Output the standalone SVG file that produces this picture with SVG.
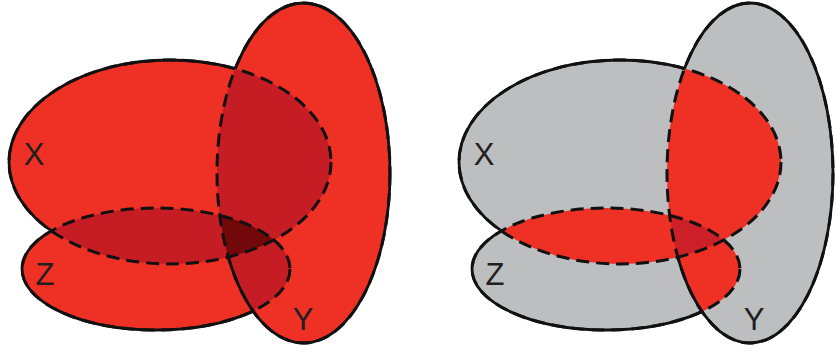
<svg xmlns="http://www.w3.org/2000/svg" xmlns:xlink="http://www.w3.org/1999/xlink" width="835" height="352" viewBox="0 0 835 352">
<style>
.red{fill:#ee3124}
.gray{fill:#bcbec0}
.pairL{fill:#c61d24}
.tripL{fill:#720809}
.pairR{fill:#ee3124}
.tripR{fill:#cc1f27}
.solid{fill:none;stroke:#111;stroke-width:2.8}
.dash{fill:none;stroke:#111;stroke-width:3;stroke-dasharray:13 7}
.lbl{font-family:"Liberation Sans",Arial,sans-serif;font-size:31px;fill:#231f20;text-anchor:middle}
</style>
<defs>
<ellipse id="LX" cx="170" cy="162" rx="161" ry="102"/>
<ellipse id="LY" cx="303.5" cy="173" rx="86.5" ry="170"/>
<ellipse id="LZ" cx="156" cy="269" rx="134" ry="61"/>
<ellipse id="RX" cx="620" cy="162" rx="161" ry="102"/>
<ellipse id="RY" cx="750" cy="173" rx="83" ry="170"/>
<ellipse id="RZ" cx="606" cy="269" rx="134" ry="61"/>
<clipPath id="cLX"><use xlink:href="#LX"/></clipPath>
<clipPath id="cLY"><use xlink:href="#LY"/></clipPath>
<clipPath id="cRX"><use xlink:href="#RX"/></clipPath>
<clipPath id="cRY"><use xlink:href="#RY"/></clipPath>
<mask id="mLX" maskUnits="userSpaceOnUse" x="0" y="0" width="835" height="352"><rect width="835" height="352" fill="#fff"/><use xlink:href="#LY" fill="#000"/><use xlink:href="#LZ" fill="#000"/></mask>
<mask id="mLZ" maskUnits="userSpaceOnUse" x="0" y="0" width="835" height="352"><rect width="835" height="352" fill="#fff"/><use xlink:href="#LX" fill="#000"/><use xlink:href="#LY" fill="#000"/></mask>
<mask id="mLY" maskUnits="userSpaceOnUse" x="0" y="0" width="835" height="352"><rect width="835" height="352" fill="#fff"/><use xlink:href="#LX" fill="#000"/></mask>
<mask id="mRX" maskUnits="userSpaceOnUse" x="0" y="0" width="835" height="352"><rect width="835" height="352" fill="#fff"/><use xlink:href="#RY" fill="#000"/><use xlink:href="#RZ" fill="#000"/></mask>
<mask id="mRZ" maskUnits="userSpaceOnUse" x="0" y="0" width="835" height="352"><rect width="835" height="352" fill="#fff"/><use xlink:href="#RX" fill="#000"/><use xlink:href="#RY" fill="#000"/></mask>
<mask id="mRY" maskUnits="userSpaceOnUse" x="0" y="0" width="835" height="352"><rect width="835" height="352" fill="#fff"/><use xlink:href="#RX" fill="#000"/></mask>
</defs>
<rect width="835" height="352" fill="#fff"/>

<!-- Left panel -->
<g id="left-panel">
  <g id="left-set-x"><use xlink:href="#LX" class="red"/></g>
  <g id="left-set-z"><use xlink:href="#LZ" class="red"/></g>
  <g id="left-set-y"><use xlink:href="#LY" class="red"/></g>
  <g id="left-overlaps">
    <use xlink:href="#LY" class="pairL" clip-path="url(#cLX)"/>
    <use xlink:href="#LZ" class="pairL" clip-path="url(#cLX)"/>
    <use xlink:href="#LZ" class="pairL" clip-path="url(#cLY)"/>
    <g clip-path="url(#cLX)"><use xlink:href="#LZ" class="tripL" clip-path="url(#cLY)"/></g>
  </g>
  <g id="left-outlines">
    <use xlink:href="#LX" class="dash"/>
    <use xlink:href="#LZ" class="dash"/>
    <use xlink:href="#LY" class="dash"/>
    <use xlink:href="#LX" class="solid" mask="url(#mLX)"/>
    <use xlink:href="#LZ" class="solid" mask="url(#mLZ)"/>
    <use xlink:href="#LY" class="solid" mask="url(#mLY)"/>
  </g>
  <text class="lbl" x="34" y="165">X</text>
  <text class="lbl" x="45" y="285">Z</text>
  <text class="lbl" x="303" y="330">Y</text>
</g>

<!-- Right panel -->
<g id="right-panel">
  <g id="right-set-x"><use xlink:href="#RX" class="gray"/></g>
  <g id="right-set-z"><use xlink:href="#RZ" class="gray"/></g>
  <g id="right-set-y"><use xlink:href="#RY" class="gray"/></g>
  <g id="right-overlaps">
    <use xlink:href="#RY" class="pairR" clip-path="url(#cRX)"/>
    <use xlink:href="#RZ" class="pairR" clip-path="url(#cRX)"/>
    <use xlink:href="#RZ" class="pairR" clip-path="url(#cRY)"/>
    <g clip-path="url(#cRX)"><use xlink:href="#RZ" class="tripR" clip-path="url(#cRY)"/></g>
  </g>
  <g id="right-outlines">
    <use xlink:href="#RX" class="dash"/>
    <use xlink:href="#RZ" class="dash"/>
    <use xlink:href="#RY" class="dash"/>
    <use xlink:href="#RX" class="solid" mask="url(#mRX)"/>
    <use xlink:href="#RZ" class="solid" mask="url(#mRZ)"/>
    <use xlink:href="#RY" class="solid" mask="url(#mRY)"/>
  </g>
  <text class="lbl" x="484" y="165">X</text>
  <text class="lbl" x="495" y="285">Z</text>
  <text class="lbl" x="754" y="330">Y</text>
</g>
</svg>
